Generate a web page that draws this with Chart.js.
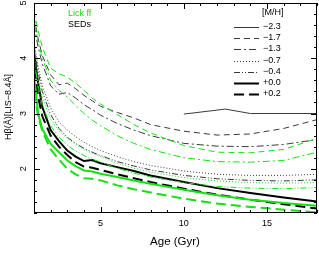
<!DOCTYPE html>
<html>
<head>
<meta charset="utf-8">
<script src="https://cdn.jsdelivr.net/npm/chart.js@4/dist/chart.umd.min.js"></script>
<style>
  html, body { margin: 0; padding: 0; background: #fff; }
  #wrap { width: 319px; height: 253px; }
</style>
</head>
<body>
<div id="wrap"><canvas id="chart" width="319" height="253"></canvas></div>
<script>
// ages (Gyr) shared by most models
const ages = [1, 1.25, 1.5, 2, 2.5, 3, 3.5, 4, 4.5, 5, 6, 7, 8, 10, 12, 14, 16, 18];
// the [M/H]=-2.3 SED model only exists for old ages
const agesPoor = [10, 12.5, 14, 18];

// SEDs (black)
const sedM23 = [2.99, 3.08, 3.0, 3.0];
const sedM17 = [4.75, 4.35, 4.05, 3.7, 3.52, 3.55, 3.45, 3.33, 3.23, 3.13, 3.02, 2.92, 2.8, 2.68, 2.61, 2.63, 2.73, 2.89];
const sedM13 = [4.6, 4.2, 3.9, 3.5, 3.35, 3.38, 3.28, 3.16, 3.07, 2.97, 2.82, 2.7, 2.6, 2.46, 2.41, 2.4, 2.44, 2.53];
const sedM07 = [4.3, 3.85, 3.5, 3.1, 2.85, 2.7, 2.58, 2.48, 2.4, 2.33, 2.22, 2.13, 2.06, 1.96, 1.9, 1.88, 1.88, 1.9];
const sedM04 = [4.2, 3.75, 3.4, 2.98, 2.73, 2.57, 2.46, 2.37, 2.3, 2.24, 2.13, 2.05, 1.98, 1.88, 1.82, 1.79, 1.78, 1.8];
const sedP00 = [4.1, 3.55, 3.12, 2.7, 2.5, 2.33, 2.22, 2.14, 2.16, 2.1, 2.03, 1.96, 1.88, 1.76, 1.65, 1.56, 1.48, 1.41];
const sedP02 = [3.8, 3.3, 2.95, 2.6, 2.4, 2.25, 2.12, 2.04, 2.02, 1.98, 1.9, 1.83, 1.76, 1.64, 1.53, 1.44, 1.36, 1.28];

// Lick fitting functions (green)
const lickM17 = [4.85, 4.5, 4.2, 3.82, 3.72, 3.66, 3.55, 3.42, 3.28, 3.17, 2.98, 2.8, 2.65, 2.42, 2.3, 2.29, 2.35, 2.55];
const lickM13 = [4.7, 4.3, 4.0, 3.6, 3.42, 3.3, 3.15, 3.0, 2.88, 2.78, 2.6, 2.46, 2.35, 2.2, 2.13, 2.12, 2.15, 2.3];
const lickM07 = [4.1, 3.6, 3.3, 2.9, 2.68, 2.55, 2.44, 2.35, 2.28, 2.22, 2.1, 2.01, 1.94, 1.84, 1.78, 1.75, 1.74, 1.75];
const lickM04 = [4.0, 3.5, 3.15, 2.78, 2.57, 2.43, 2.32, 2.24, 2.17, 2.12, 2.01, 1.92, 1.85, 1.75, 1.68, 1.65, 1.64, 1.66];
const lickP00 = [3.7, 3.0, 2.72, 2.45, 2.3, 2.15, 2.05, 1.97, 1.95, 1.91, 1.85, 1.79, 1.73, 1.62, 1.52, 1.44, 1.38, 1.33];
const lickP02 = [3.4, 2.95, 2.68, 2.35, 2.17, 2.0, 1.9, 1.83, 1.82, 1.79, 1.7, 1.63, 1.57, 1.46, 1.37, 1.31, 1.26, 1.21];

const metLabels = ['\u22122.3', '\u22121.7', '\u22121.3', '\u22120.7', '\u22120.4', '+0.0', '+0.2'];
const xTicks = [5, 10, 15];
const yTicks = [2, 3, 4, 5];

const GREEN = 'rgb(20,225,20)';
const DARK = '#3a3a3a';
const styles = [
  { dash: [], width: 1 },
  { dash: [6, 4], width: 1 },
  { dash: [7, 3, 2, 3], width: 1 },
  { dash: [1, 2], width: 1 },
  { dash: [6, 2, 1, 2, 1, 2], width: 1 },
  { dash: [], width: 2 },
  { dash: [10, 5], width: 2 }
];

function pts(xs, ys) { return xs.map((x, i) => ({ x: x, y: ys[i] })); }

function line(xs, ys, k, color) {
  return {
    data: pts(xs, ys),
    borderColor: k >= 5 && color === DARK ? '#000' : color,
    borderWidth: styles[k].width,
    borderDash: styles[k].dash,
    pointRadius: 0,
    tension: 0,
    fill: false
  };
}

const datasets = [
  line(ages, lickM17, 1, GREEN),
  line(ages, lickM13, 2, GREEN),
  line(ages, lickM07, 3, GREEN),
  line(ages, lickM04, 4, GREEN),
  line(ages, lickP00, 5, GREEN),
  line(ages, lickP02, 6, GREEN),
  line(agesPoor, sedM23, 0, DARK),
  line(ages, sedM17, 1, DARK),
  line(ages, sedM13, 2, DARK),
  line(ages, sedM07, 3, DARK),
  line(ages, sedM04, 4, DARK),
  line(ages, sedP00, 5, DARK),
  line(ages, sedP02, 6, DARK)
];

const FONT = '"Liberation Sans", Arial, sans-serif';

const frame = {
  id: 'frame',
  afterDraw(chart) {
    const { ctx, chartArea: a, scales: { x, y } } = chart;
    ctx.save();
    ctx.strokeStyle = '#000';
    ctx.lineWidth = 1;
    ctx.setLineDash([]);
    ctx.strokeRect(a.left + 0.5, a.top + 0.5, a.right - a.left - 1, a.bottom - a.top - 1);

    // inward ticks on all four sides
    ctx.beginPath();
    for (let v = Math.ceil(x.min); v <= x.max; v++) {
      const px = Math.round(x.getPixelForValue(v)) + 0.5;
      const len = v % 5 === 0 ? 6 : 3;
      ctx.moveTo(px, a.bottom); ctx.lineTo(px, a.bottom - len);
      ctx.moveTo(px, a.top); ctx.lineTo(px, a.top + len);
    }
    for (let i = Math.round(y.min * 5); i <= Math.round(y.max * 5); i++) {
      const py = Math.round(y.getPixelForValue(i / 5)) + 0.5;
      const len = i % 5 === 0 ? 6 : 3;
      ctx.moveTo(a.left, py); ctx.lineTo(a.left + len, py);
      ctx.moveTo(a.right, py); ctx.lineTo(a.right - len, py);
    }
    ctx.stroke();

    // tick labels
    ctx.fillStyle = '#000';
    ctx.font = '9px ' + FONT;
    ctx.textAlign = 'center';
    ctx.textBaseline = 'top';
    xTicks.forEach(v => ctx.fillText(String(v), x.getPixelForValue(v), a.bottom + 6));
    yTicks.forEach(v => {
      ctx.save();
      ctx.translate(a.left - 6, y.getPixelForValue(v));
      ctx.rotate(-Math.PI / 2);
      ctx.textBaseline = 'bottom';
      ctx.fillText(String(v), 0, 0);
      ctx.restore();
    });

    // axis titles
    ctx.font = '11.5px ' + FONT;
    ctx.textBaseline = 'middle';
    ctx.fillText('Age (Gyr)', 175, 242);
    ctx.font = '9px ' + FONT;
    ctx.save();
    ctx.translate(9, 107);
    ctx.rotate(-Math.PI / 2);
    ctx.fillText('H\u03b2(\u00c5)[LIS\u22128.4\u00c5]', 0, 0);
    ctx.restore();

    // source legend
    ctx.font = '9px ' + FONT;
    ctx.textAlign = 'left';
    ctx.fillStyle = GREEN;
    ctx.fillText('Lick ff', 68, 14);
    ctx.fillStyle = '#000';
    ctx.fillText('SEDs', 68, 25);

    // metallicity legend
    ctx.fillText('[M/H]', 262, 13);
    const rows = [27, 38, 49, 61, 72, 83, 94];
    metLabels.forEach((lab, k) => {
      const ry = rows[k] + 0.5;
      ctx.save();
      ctx.strokeStyle = k >= 5 ? '#000' : DARK;
      ctx.lineWidth = styles[k].width;
      ctx.setLineDash(styles[k].dash);
      ctx.beginPath();
      ctx.moveTo(234, ry); ctx.lineTo(259, ry);
      ctx.stroke();
      ctx.restore();
      ctx.fillText(lab, 263, rows[k]);
    });
    ctx.restore();
  }
};

new Chart(document.getElementById('chart'), {
  type: 'line',
  data: { datasets: datasets },
  options: {
    responsive: false,
    animation: false,
    devicePixelRatio: 1,
    layout: { padding: { left: 34, top: 3, right: 2, bottom: 40 } },
    plugins: { legend: { display: false }, tooltip: { enabled: false } },
    scales: {
      x: { type: 'linear', min: 1, max: 18, display: false },
      y: { type: 'linear', min: 1.2, max: 5, display: false }
    }
  },
  plugins: [frame]
});
</script>
</body>
</html>
